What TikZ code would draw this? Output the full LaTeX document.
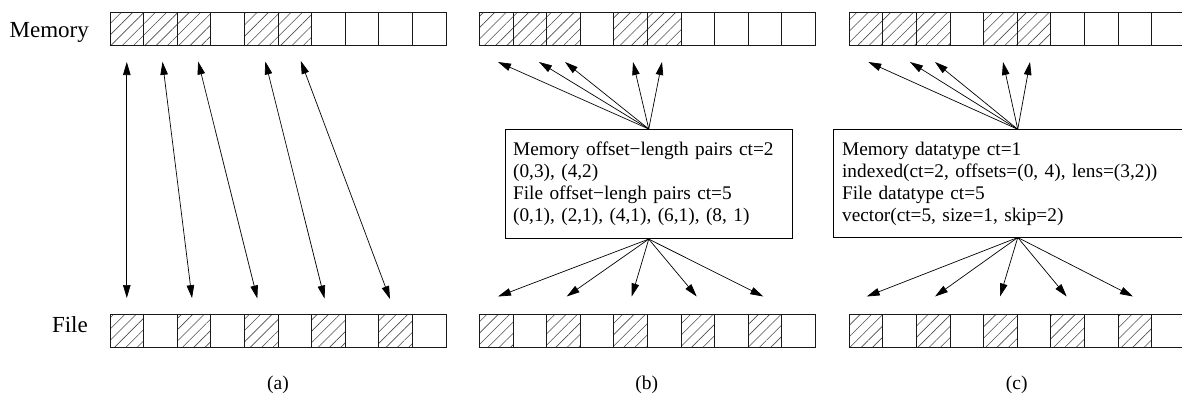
\documentclass[tikz,border=0pt]{standalone}
\usepackage{fontspec}
\setmainfont{Liberation Serif}
\usetikzlibrary{arrows.meta,patterns.meta}

\begin{document}
\begin{tikzpicture}[x=1pt,y=-1pt,
 cell/.style={draw=black!90, line width=0.9pt, minimum width=33.6pt, minimum height=33pt, inner sep=0pt, outer sep=0pt, anchor=north west},
 hcell/.style={cell, pattern={Lines[angle=45,distance=8pt,line width=0.6pt]}, pattern color=black!70},
 conn/.style={line width=0.7pt, -{Triangle[length=13pt,width=7.5pt]}},
 biconn/.style={line width=0.7pt, {Triangle[length=13pt,width=7.5pt]}-{Triangle[length=13pt,width=7.5pt]}},
 rowlabel/.style={font=\fontsize{23}{26}\selectfont, inner sep=0pt, anchor=base east},
 boxtext/.style={draw, line width=0.8pt, font=\fontsize{19.3}{22}\selectfont, align=left, inner ysep=0pt, anchor=north west},
 caption/.style={font=\fontsize{19.5}{22}\selectfont, inner sep=0pt}]
\useasboundingbox (0,0) rectangle (1182,394);
\clip (0,0) rectangle (1182,394);

% cells
\foreach \rw/\x in {a/110,b/479.5,c/849.3}{
  \foreach \i in {0,...,9}{
    \pgfmathtruncatemacro\hm{(\i<3)||(\i==4)||(\i==5)}
    \pgfmathtruncatemacro\hf{mod(\i,2)==0}
    \ifnum\hm=1
      \node[hcell] (\rw m\i) at (\x+33.6*\i,12) {};
    \else
      \node[cell] (\rw m\i) at (\x+33.6*\i,12) {};
    \fi
    \ifnum\hf=1
      \node[hcell] (\rw f\i) at (\x+33.6*\i,314) {};
    \else
      \node[cell] (\rw f\i) at (\x+33.6*\i,314) {};
    \fi
  }
}

% row labels
\node[rowlabel] (memlabel) at (89,37) {Memory};
\node[rowlabel] (filelabel) at (88,332) {File};

% (a) arrows
\foreach \f/\m in {0/0,2/1,4/2,6/4,8/5}
  \draw[biconn, shorten <=16pt, shorten >=17pt] (af\f.north) -- (am\m.south);

% (b) box
\node[boxtext, text width=271.3pt, inner xsep=7.7pt, minimum width=286.7pt, minimum height=109.3pt] (bbox) at (505,129)
  {Memory offset−length pairs ct=2\\(0,3), (4,2)\\File offset−lengh pairs ct=5\\(0,1), (2,1), (4,1), (6,1), (8, 1)};
\foreach \n/\x in {1/498,2/539,3/565,4/633,5/662}
  \coordinate (bt\n) at (\x,62);
\foreach \n/\x in {1/498,2/566.7,3/631.7,4/696.7,5/763.3}
  \coordinate (bb\n) at (\x,296.5);
\foreach \n in {1,...,5}{
  \draw[conn] (bbox.north) -- (bt\n);
  \draw[conn] (bbox.south) -- (bb\n);
}

% (c) box
\node[boxtext, text width=351.3pt, inner xsep=9pt, minimum width=369.3pt, minimum height=107.4pt] (cbox) at (832.7,129.3)
  {Memory datatype ct=1\\indexed(ct=2, offsets=(0, 4), lens=(3,2))\\File datatype ct=5\\vector(ct=5, size=1, skip=2)};
\foreach \n/\x in {1/868.3,2/910,3/935,4/1003,5/1030}
  \coordinate (ct\n) at (\x,62);
\foreach \n/\x in {1/866.7,2/935,3/1000,4/1066.7,5/1133}
  \coordinate (cb\n) at (\x,296.5);
\foreach \n in {1,...,5}{
  \draw[conn] (cbox.north) -- (ct\n);
  \draw[conn] (cbox.south) -- (cb\n);
}

% captions
\node[caption] (capa) at (278,384.5) {(a)};
\node[caption] (capb) at (646.7,384.5) {(b)};
\node[caption] (capc) at (1016.7,384.5) {(c)};
\end{tikzpicture}
\end{document}
